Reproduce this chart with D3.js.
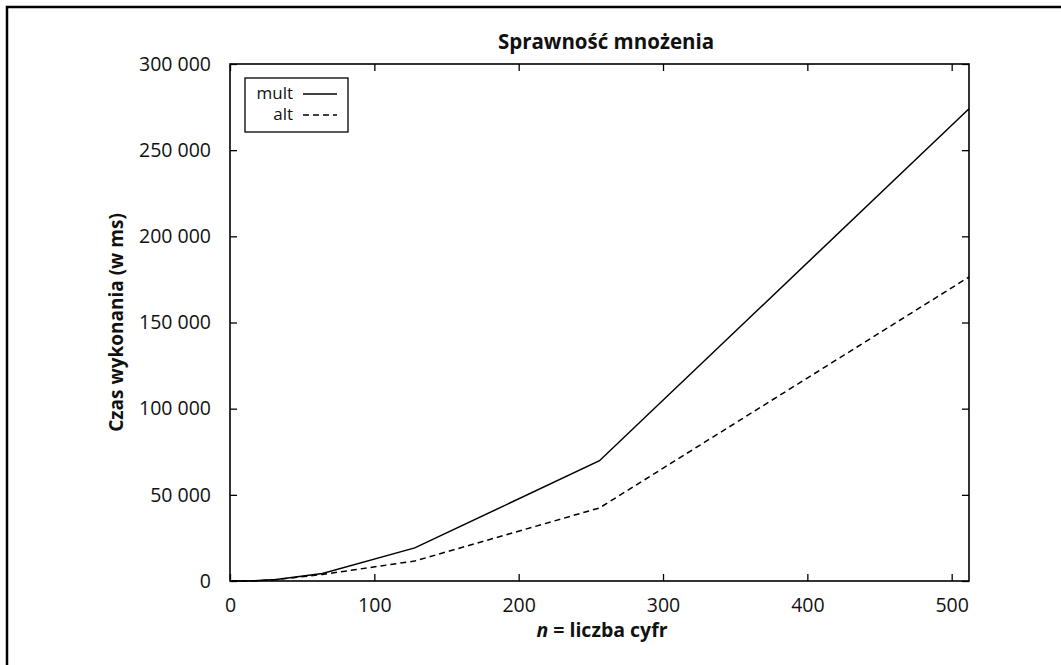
<!DOCTYPE html>
<html><head><meta charset="utf-8">
<script src="https://cdn.jsdelivr.net/npm/d3@7"></script>
<style>body{margin:0;background:#fff}svg{display:block}text{font-family:"Open Sans",sans-serif;fill:#111}</style>
</head><body>
<svg id="c" width="1061" height="665"></svg>
<script>
const nValues = [1, 2, 4, 8, 16, 32, 64, 128, 256, 512];
const multValues = [0, 0, 0, 10, 80, 900, 4300, 19200, 69800, 274000];
const altValues = [0, 0, 0, 10, 70, 800, 3800, 11600, 42400, 176400];
const xTicks = [0, 100, 200, 300, 400, 500];
const yTicks = [0, 50000, 100000, 150000, 200000, 250000, 300000];
const seriesNames = ["mult", "alt"];

const svg = d3.select("#c");
const M = {l: 230, r: 969, t: 64, b: 581};
const x = d3.scaleLinear().domain([0, 512]).range([M.l, M.r]);
const y = d3.scaleLinear().domain([0, 300000]).range([M.b, M.t]);
const loc = d3.formatLocale({decimal: ",", thousands: " ", grouping: [3], currency: ["", ""]});
const fmt = loc.format(",d");

// outer frame
svg.append("rect").attr("x", 7).attr("y", 7).attr("width", 1100).attr("height", 700)
  .attr("fill", "none").attr("stroke", "#000").attr("stroke-width", 2.5);

const tl = 7;
function styleAxis(g){ g.select(".domain").remove(); g.selectAll("line").attr("stroke","#000").attr("stroke-width",1.3); }

svg.append("g").attr("transform", `translate(0,${M.b})`)
  .call(d3.axisBottom(x).tickValues(xTicks).tickSize(-tl).tickPadding(17).tickFormat(d3.format("d")))
  .call(styleAxis).selectAll("text").attr("font-size", 19.5).attr("fill", "#111");
svg.append("g").attr("transform", `translate(0,${M.t})`)
  .call(d3.axisTop(x).tickValues(xTicks).tickSize(-tl).tickFormat(""))
  .call(styleAxis);
svg.append("g").attr("transform", `translate(${M.l},0)`)
  .call(d3.axisLeft(y).tickValues(yTicks).tickSize(-tl).tickPadding(19).tickFormat(fmt))
  .call(styleAxis).selectAll("text").attr("font-size", 19.5).attr("fill", "#111");
svg.append("g").attr("transform", `translate(${M.r},0)`)
  .call(d3.axisRight(y).tickValues(yTicks).tickSize(-tl).tickFormat(""))
  .call(styleAxis);

// plot border
svg.append("rect").attr("x", M.l).attr("y", M.t).attr("width", M.r - M.l).attr("height", M.b - M.t)
  .attr("fill", "none").attr("stroke", "#000").attr("stroke-width", 1.6);

const line = d3.line().x(d => x(d[0])).y(d => y(d[1]));
const dashes = [null, "6,4"];
[multValues, altValues].forEach((vals, i) => {
  svg.append("path").datum(nValues.map((n, j) => [n, vals[j]]))
    .attr("d", line).attr("fill", "none").attr("stroke", "#000").attr("stroke-width", 1.5)
    .attr("stroke-dasharray", dashes[i]);
});

// legend
svg.append("rect").attr("x", 245).attr("y", 78).attr("width", 103).attr("height", 54)
  .attr("fill", "#fff").attr("stroke", "#000").attr("stroke-width", 1.3);
seriesNames.forEach((s, i) => {
  const yy = 94 + i * 21;
  svg.append("text").attr("x", 293).attr("y", yy).attr("dy", "0.32em").attr("text-anchor", "end")
    .attr("font-size", 17).text(s);
  svg.append("line").attr("x1", 303).attr("x2", 337).attr("y1", yy).attr("y2", yy)
    .attr("stroke", "#000").attr("stroke-width", 1.5).attr("stroke-dasharray", dashes[i]);
});

// titles
svg.append("text").attr("x", 606).attr("y", 49).attr("text-anchor", "middle")
  .attr("font-size", 20.5).attr("font-weight", "bold").text("Sprawność mnożenia");
const xl = svg.append("text").attr("x", 602).attr("y", 637).attr("text-anchor", "middle")
  .attr("font-size", 19.5).attr("font-weight", "bold");
xl.append("tspan").attr("font-style", "italic").text("n");
xl.append("tspan").text(" = liczba cyfr");
svg.append("text").attr("transform", `translate(123,${(M.t + M.b) / 2}) rotate(-90)`)
  .attr("text-anchor", "middle").attr("font-size", 19).attr("font-weight", "bold")
  .text("Czas wykonania (w ms)");
</script>
</body></html>
